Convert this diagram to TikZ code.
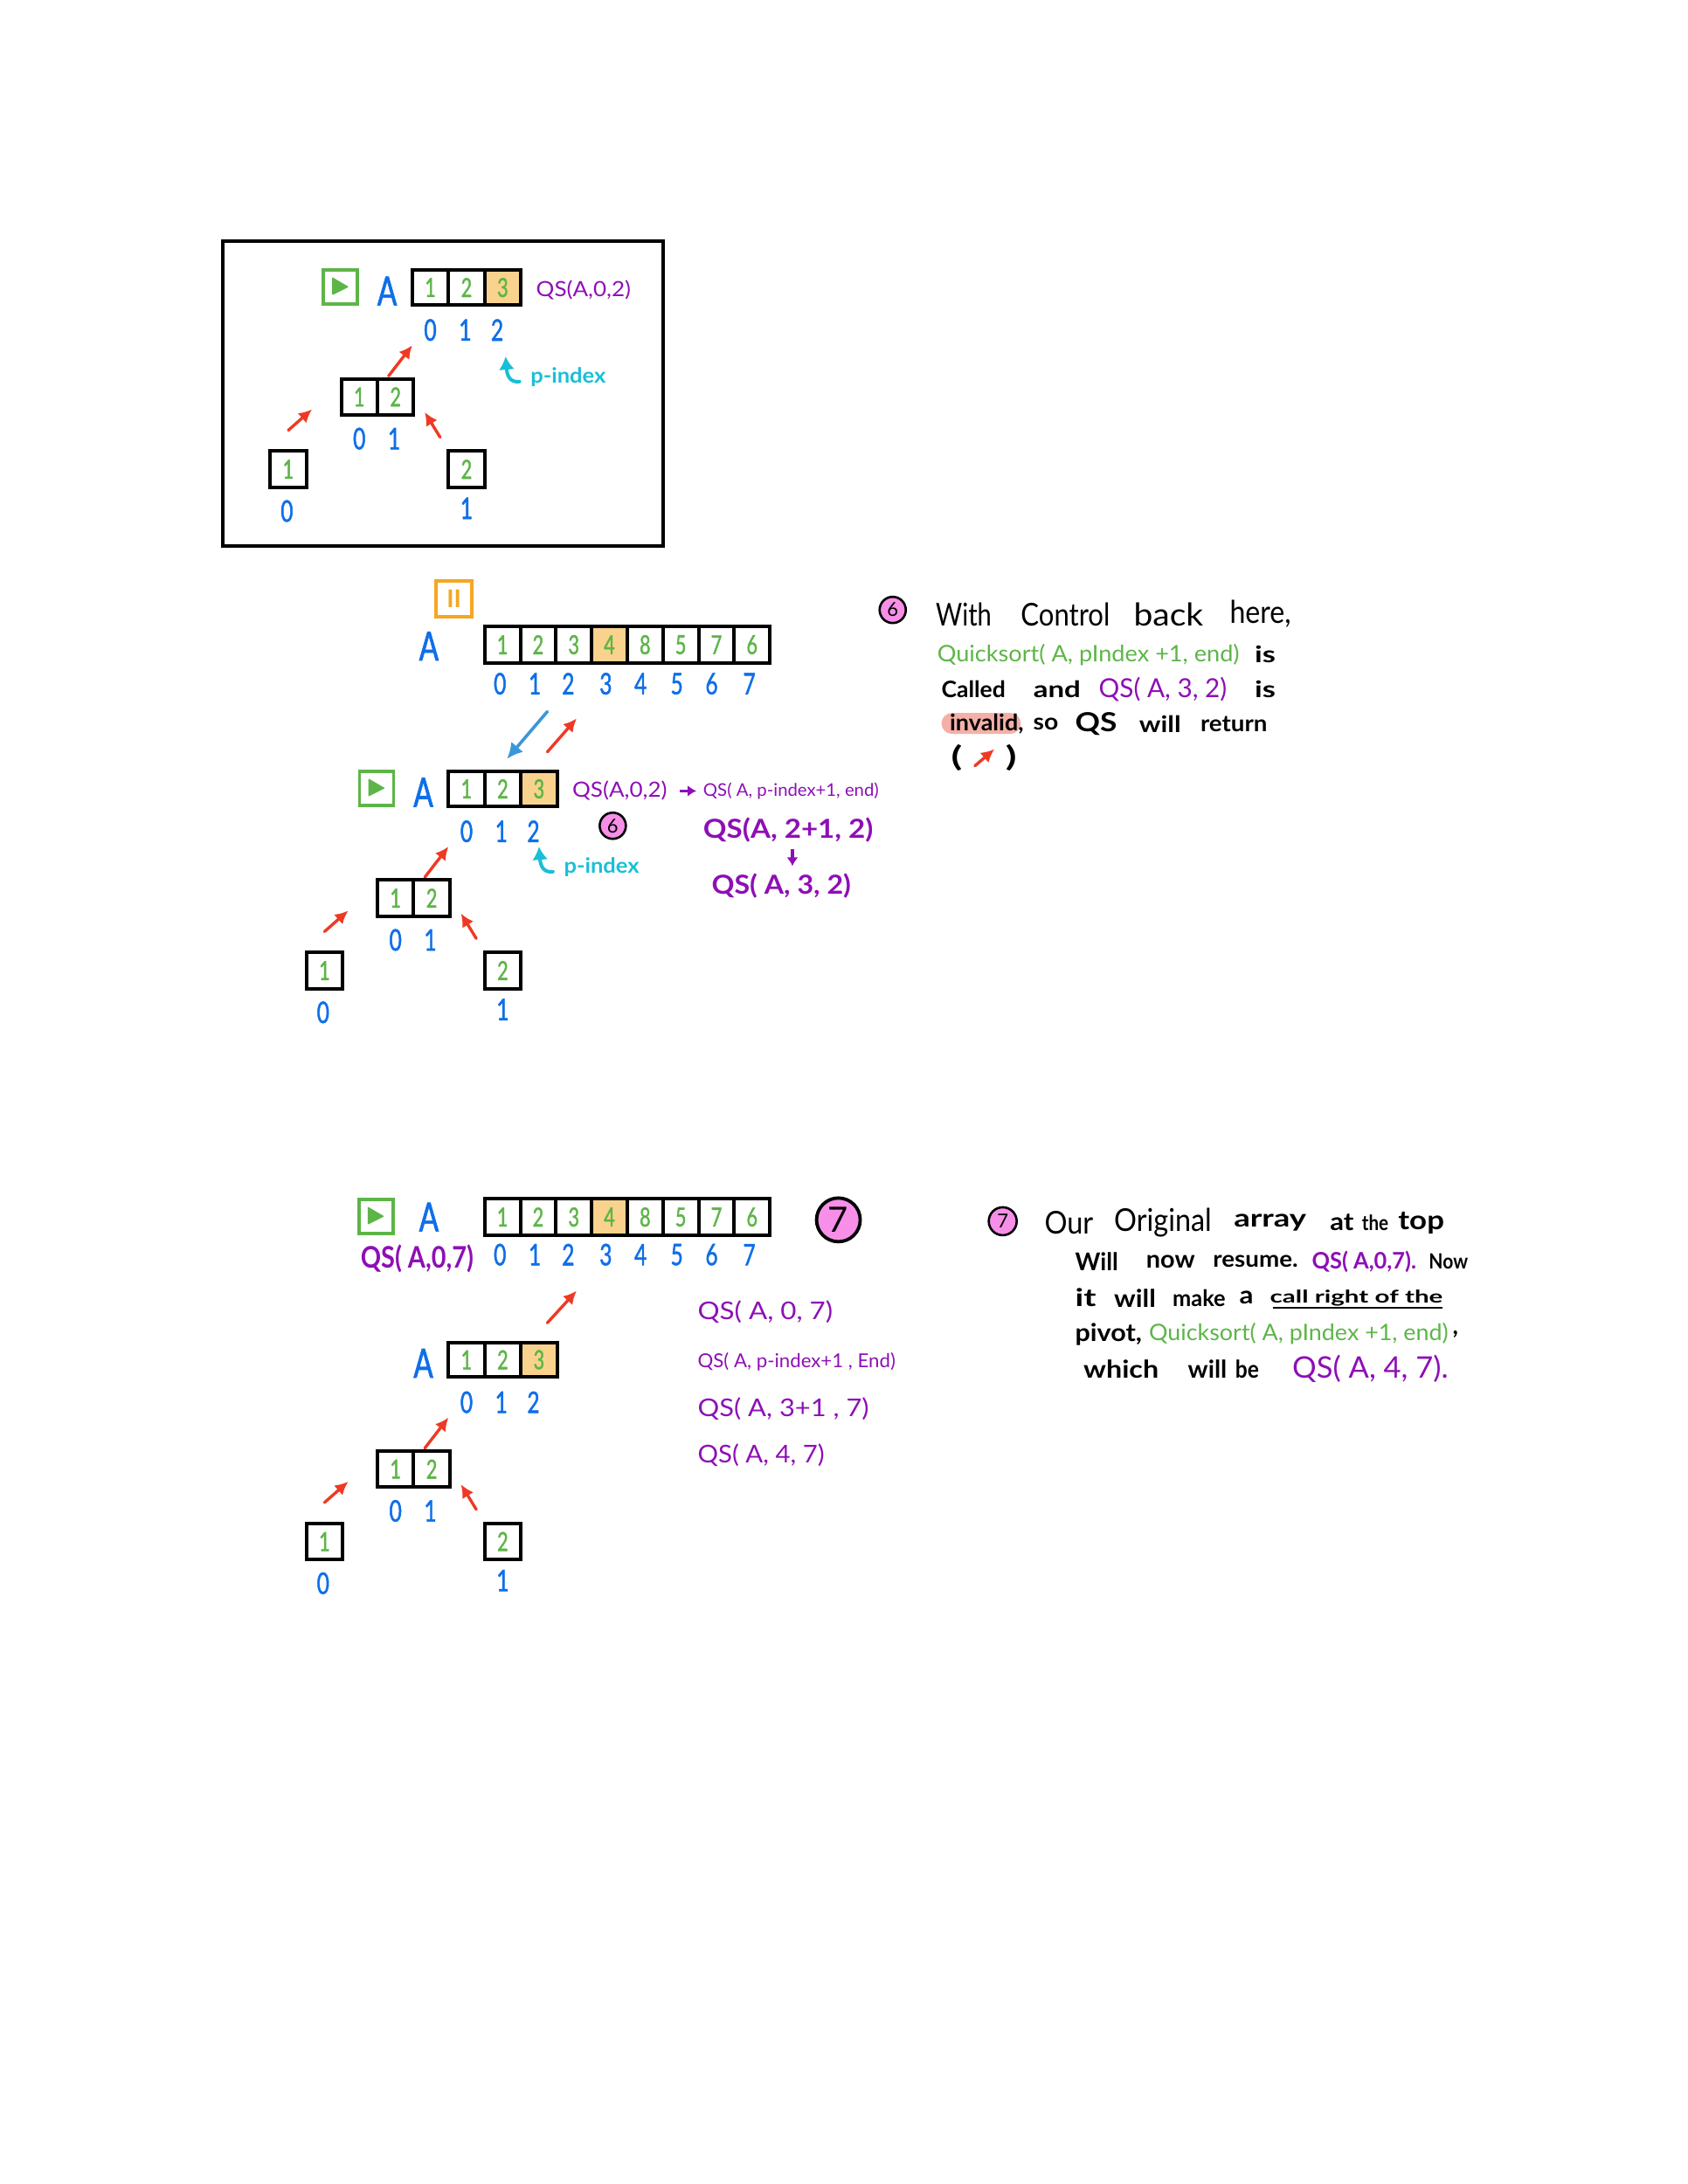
\documentclass[tikz,border=0pt]{standalone}
\usepackage{fontspec}
\setmainfont{Lato}
\newfontfamily\narrowhand[FakeStretch=0.72,FakeBold=1.4]{Lato}
\usetikzlibrary{arrows.meta}
\definecolor{hgreen}{HTML}{5DB548}
\definecolor{hblue}{HTML}{0F6FE8}
\definecolor{hpurple}{HTML}{8E0FB5}
\definecolor{hred}{HTML}{EE3A24}
\definecolor{hcyan}{HTML}{19BFD6}
\definecolor{hpivot}{HTML}{F9D28E}
\definecolor{hpink}{HTML}{F78FE8}
\definecolor{hsky}{HTML}{3B97D8}
\definecolor{hpause}{HTML}{F5A623}
\definecolor{hsalmon}{HTML}{F4B0A8}
\newdimen\ux \ux=0.797pt
\newcounter{tc}
\newcounter{ac}
\tikzset{
  x=0.797pt,y=-0.797pt,
  tbox/.style={anchor=west,inner sep=0pt,outer sep=0pt},
  cellbox/.style={draw=black,line width=2pt,inner sep=0pt,outer sep=0pt,text=hgreen,font=\fontsize{15}{15}\narrowhand},
  idxlabel/.style={inner sep=0pt,text=hblue,font=\fontsize{17}{17}\narrowhand},
  biglabel/.style={inner sep=0pt,text=hblue,font=\fontsize{23}{23}\narrowhand},
  playbox/.style={draw=hgreen,line width=1.8pt,inner sep=0pt,minimum size=19.5pt},
  pausebox/.style={draw=hpause,line width=1.8pt,inner sep=0pt,minimum size=20.5pt,text=hpause,font=\fontsize{14}{14}\selectfont\bfseries},
  numcircle/.style={circle,draw=black,fill=hpink,line width=1.3pt,inner sep=0pt,font=\fontsize{11}{11}\selectfont},
  redarr/.style={draw=hred,line width=1.7pt,line cap=round,-{Latex[length=7.5pt,width=7.5pt]}},
  skyarr/.style={draw=hsky,line width=1.8pt,line cap=round,-{Latex[length=9pt,width=9pt]}},
  cyanarr/.style={draw=hcyan,line width=2pt,line cap=round,-{Latex[length=7.5pt,width=9pt]}},
  purparr/.style={draw=hpurple,line width=1.7pt,-{Latex[length=5pt,width=6.5pt]}},
}
% colour, size, x, y, width, text
\newcommand\tx[6]{\stepcounter{tc}\node[tbox,text=#1,font=\fontsize{#2}{#2}\selectfont] (t\thetc) at (#3,#4) {\resizebox{#5\ux}{\height}{#6}};}
% style, x1,y1,x2,y2
\newcommand\arr[5]{\stepcounter{ac}\coordinate (as\theac) at (#2,#3);\coordinate (ae\theac) at (#4,#5);\draw[#1] (as\theac) -- (ae\theac);}
% prefix, x0, ytop, cell w, h, values, pivot index
\newcommand\cellrow[7]{\foreach \v [count=\i] in {#6}{%
  \def\fc{white}\ifnum\i=#7\relax\def\fc{hpivot}\fi
  \pgfmathsetmacro\cx{#2+(\i-.5)*#4}\pgfmathsetmacro\cy{#3+.5*#5}%
  \node[cellbox,fill=\fc,minimum width=#4\ux,minimum height=#5\ux] (#1\i) at (\cx,\cy) {\v};}}
% prefix, y, list x/v
\newcommand\idxrow[3]{\foreach \xx/\v in {#3}{\node[idxlabel] (#1\xx) at (\xx,#2) {\v};}}
% the little recursion tree, in the coordinates of the framed copy
\newcommand\smalltree[1]{%
  \node[biglabel] (#1A) at (278,209) {A};
  \cellrow{#1m}{296}{194}{26}{25}{1,2,3}{3}
  \idxrow{#1i}{237}{309/0,334/1,357/2}
  \arr{redarr}{279}{270}{296}{248}
  \cellrow{#1c}{245}{272}{26}{26}{1,2}{0}
  \idxrow{#1j}{315}{258/0,283/1}
  \arr{redarr}{207}{309}{224}{294}
  \arr{redarr}{316}{314}{305}{296}
  \cellrow{#1l}{194}{324}{26}{26}{1}{0}
  \cellrow{#1r}{322}{324}{26}{26}{2}{0}
  \node[idxlabel] (#1zero) at (206,367) {0};
  \node[idxlabel] (#1one) at (335,365) {1};
}
\newcommand\playicon[3]{%
  \node[playbox] (#1) at (#2,#3) {};
  \begin{scope}[shift={(#2,#3)}]\fill[hgreen,rounded corners=0.5pt] (-6,-7)--(6,0)--(-6,6)--cycle;\end{scope}
}
\newcommand\pindex{%
  \coordinate (cs) at (373,274);\coordinate (ce) at (363,256);
  \draw[cyanarr] (cs) .. controls (365,275) and (364,268) .. (ce);
  \tx{hcyan}{12}{381}{271}{54}{\bfseries p-index}
}
\begin{document}
\begin{tikzpicture}
\useasboundingbox (0,0) rectangle (1212,1568.4);
% ---------- framed copy
\node[draw=black,line width=2.1pt,minimum width=316\ux,minimum height=219\ux,inner sep=0pt] (frame) at (318,282.5) {};
\playicon{pa}{244.5}{206}
\smalltree{a}
\tx{hpurple}{12}{385}{208}{68}{QS(A,0,2)}
\pindex
% ---------- second copy
\node[pausebox] (pause) at (326,430) {II};
\node[biglabel] (bA) at (308,464) {A};
\cellrow{bm}{348}{450}{25.6}{26}{1,2,3,4,8,5,7,6}{4}
\idxrow{bi}{491}{359/0,384/1,408/2,435/3,460/4,486/5,511/6,538/7}
\arr{skyarr}{393}{511}{364}{545}
\arr{redarr}{393}{540}{414}{516}
\begin{scope}[shift={(26,360)}]
\playicon{pb}{244.5}{206}
\smalltree{b}
\end{scope}
\begin{scope}[shift={(24,352)}]
\pindex
\end{scope}
\tx{hpurple}{12}{411}{568}{68}{QS(A,0,2)}
\arr{purparr}{488}{568}{500}{568}
\tx{hpurple}{10}{505}{568}{126}{QS( A, p-index+1, end)}
\node[numcircle,minimum size=15pt] (c6a) at (440,593) {6};
\tx{hpurple}{15}{505}{596}{122}{\bfseries QS(A, 2+1, 2)}
\arr{purparr}{569}{610}{569}{622}
\tx{hpurple}{15}{511}{636}{100}{\bfseries QS( A, 3, 2)}
% ---------- note 6
\node[numcircle,minimum size=15pt] (c6b) at (641,438) {6};
\tx{black}{18}{672}{441}{40}{With}
\tx{black}{18}{733}{441}{64}{Control}
\tx{black}{18}{814}{441}{50}{back}
\tx{black}{18}{883}{441}{44}{here,}
\tx{hgreen}{13}{673}{470}{217}{Quicksort( A, pIndex +1, end)}
\tx{black}{13}{901}{470}{15}{\bfseries is}
\tx{black}{13}{676}{495}{46}{\bfseries Called}
\tx{black}{13}{742}{495}{34}{\bfseries and}
\tx{hpurple}{15}{789}{495}{92}{QS( A, 3, 2)}
\tx{black}{13}{901}{495}{15}{\bfseries is}
\fill[hsalmon,rounded corners=6pt] (676,512) rectangle (733,527);
\tx{black}{13}{682}{520}{53}{\bfseries invalid,}
\tx{black}{13}{742}{520}{18}{\bfseries so}
\tx{black}{15}{772}{520}{30}{\bfseries QS}
\tx{black}{13}{818}{520}{30}{\bfseries will}
\tx{black}{13}{862}{520}{48}{\bfseries return}
\tx{black}{16}{683}{544}{8}{\bfseries (}
\arr{redarr}{700}{550}{714}{538}
\tx{black}{16}{722}{544}{8}{\bfseries )}
% ---------- third section
\playicon{pc}{270}{873.5}
\node[biglabel] (cA) at (308,874) {A};
\cellrow{cm}{348}{861}{25.6}{26}{1,2,3,4,8,5,7,6}{4}
\idxrow{ci}{901}{359/0,384/1,408/2,435/3,460/4,486/5,511/6,538/7}
\node[numcircle,minimum size=25pt,line width=1.9pt,font=\fontsize{20}{20}\selectfont] (c7a) at (602,876) {7};
\tx{hpurple}{17}{259}{904}{81}{\bfseries QS( A,0,7)}
\arr{redarr}{393}{950}{414}{927}
\begin{scope}[shift={(26,770)}]
\smalltree{c}
\end{scope}
\tx{hpurple}{14}{501}{942}{97}{QS( A, 0, 7)}
\tx{hpurple}{11}{501}{978}{142}{QS( A, p-index+1 , End)}
\tx{hpurple}{14}{501}{1012}{123}{QS( A, 3+1 , 7)}
\tx{hpurple}{14}{501}{1045}{91}{QS( A, 4, 7)}
% ---------- note 7
\node[numcircle,minimum size=16pt] (c7b) at (720,877) {7};
\tx{black}{18}{750}{878}{35}{Our}
\tx{black}{18}{800}{878}{70}{Original}
\tx{black}{14}{886}{878}{52}{\bfseries array}
\tx{black}{14}{955}{878}{17}{\bfseries at}
\tx{black}{12}{978}{878}{19}{\bfseries the}
\tx{black}{15}{1004}{878}{33}{\bfseries top}
\tx{black}{14}{772}{906}{31}{\bfseries Will}
\tx{black}{14}{823}{906}{35}{\bfseries now}
\tx{black}{13}{871}{906}{61}{\bfseries resume.}
\tx{hpurple}{13}{942}{906}{75}{\bfseries QS( A,0,7).}
\tx{black}{12}{1026}{906}{28}{\bfseries Now}
\tx{black}{14}{772}{932}{15}{\bfseries it}
\tx{black}{14}{800}{932}{30}{\bfseries will}
\tx{black}{13}{842}{932}{38}{\bfseries make}
\tx{black}{14}{890}{932}{10}{\bfseries a}
\tx{black}{10}{912}{932}{124}{\bfseries call right of the}
\coordinate (uls) at (914,939);\coordinate (ule) at (1036,939);
\draw[black,line width=1.2pt] (uls) -- (ule);
\tx{black}{14}{772}{958}{48}{\bfseries pivot,}
\tx{hgreen}{13}{825}{958}{215}{Quicksort( A, pIndex +1, end)}
\tx{black}{14}{1043}{958}{4}{\bfseries ,}
\tx{black}{14}{778}{983}{54}{\bfseries which}
\tx{black}{14}{853}{983}{28}{\bfseries will}
\tx{black}{14}{887}{983}{17}{\bfseries be}
\tx{hpurple}{17}{928}{983}{112}{QS( A, 4, 7).}
\end{tikzpicture}
\end{document}
